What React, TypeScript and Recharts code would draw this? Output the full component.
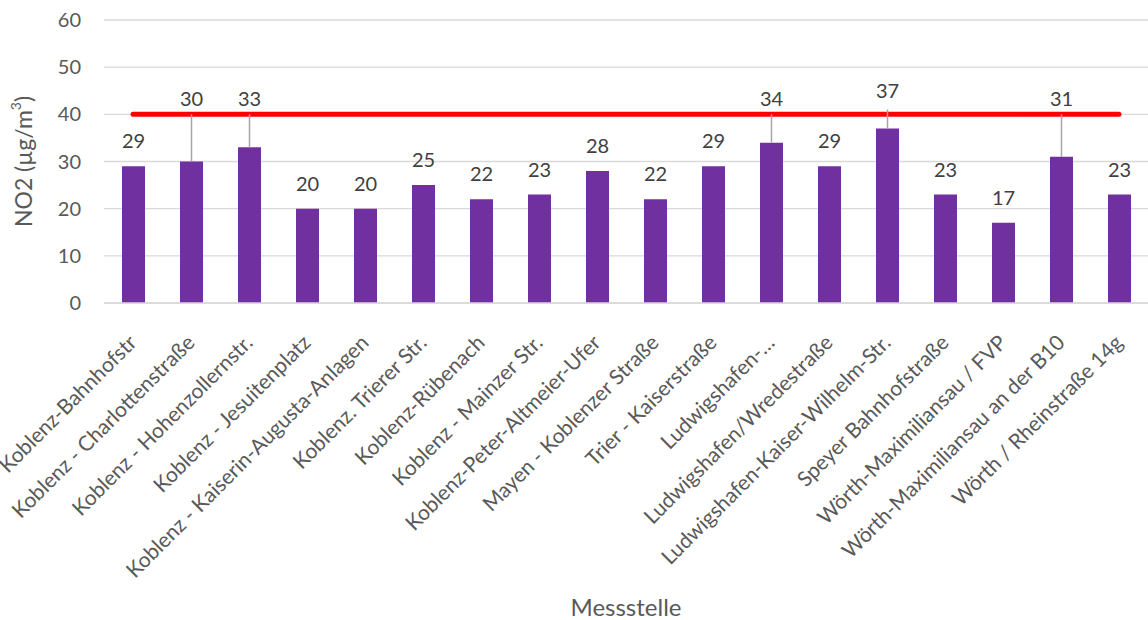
import React from 'react';
import { ComposedChart, Bar, Line, XAxis, YAxis, CartesianGrid, LabelList, Label } from 'recharts';

const categories = [
  'Koblenz-Bahnhofstr',
  'Koblenz - Charlottenstraße',
  'Koblenz - Hohenzollernstr.',
  'Koblenz - Jesuitenplatz',
  'Koblenz - Kaiserin-Augusta-Anlagen',
  'Koblenz. Trierer Str.',
  'Koblenz-Rübenach',
  'Koblenz - Mainzer Str.',
  'Koblenz-Peter-Altmeier-Ufer',
  'Mayen - Koblenzer Straße',
  'Trier - Kaiserstraße',
  'Ludwigshafen-…',
  'Ludwigshafen/Wredestraße',
  'Ludwigshafen-Kaiser-Wilhelm-Str.',
  'Speyer Bahnhofstraße',
  'Wörth-Maximiliansau / FVP',
  'Wörth-Maximiliansau an der B10',
  'Wörth / Rheinstraße 14g',
];

const no2Values = [29, 30, 33, 20, 20, 25, 22, 23, 28, 22, 29, 34, 29, 37, 23, 17, 31, 23];

const limitValues = [40, 40, 40, 40, 40, 40, 40, 40, 40, 40, 40, 40, 40, 40, 40, 40, 40, 40];

const yTicks = [0, 10, 20, 30, 40, 50, 60];

const data = categories.map((name, i) => ({ name, no2: no2Values[i], limit: limitValues[i] }));

const FONT = 'Lato, "Open Sans", sans-serif';
const TEXT = '#595959';

const XTick = (props: any) => {
  const { x, y, payload } = props;
  const ax = x + 5;
  const ay = y + 41;
  return (
    <text
      x={ax}
      y={ay}
      transform={`rotate(-45, ${ax}, ${ay})`}
      textAnchor="end"
      fill={TEXT}
      fontSize={21}
      fontFamily={FONT}
    >
      {payload.value}
    </text>
  );
};

const BarLabel = (props: any) => {
  const { x, y, width, height, value } = props;
  const cx = x + width / 2;
  const k = height / value;
  const y0 = y + height;
  const y40 = y0 - 40 * k;
  if (value >= 30) {
    const ly = Math.min(y40 - 16, y - 38);
    const top = Math.min(y40, ly + 19);
    return (
      <g>
        <line x1={cx} x2={cx} y1={top} y2={y} stroke="#A6A6A6" strokeWidth={1.5} />
        <text x={cx} y={ly} dy="0.36em" textAnchor="middle" fill="#404040" fontSize={20} fontFamily={FONT}>
          {value}
        </text>
      </g>
    );
  }
  return (
    <text x={cx} y={y - 25} dy="0.36em" textAnchor="middle" fill="#404040" fontSize={20} fontFamily={FONT}>
      {value}
    </text>
  );
};

const YTitle = (props: any) => {
  const { viewBox } = props;
  const cx = 23;
  const cy = viewBox.y + viewBox.height / 2;
  return (
    <text
      x={cx}
      y={cy}
      transform={`rotate(-90, ${cx}, ${cy})`}
      textAnchor="middle"
      dominantBaseline="central"
      fill={TEXT}
      fontSize={23}
      fontFamily={FONT}
    >
      NO2 (µg/m<tspan dy="-8" fontSize={14}>3</tspan><tspan dy="8">)</tspan>
    </text>
  );
};

const XTitle = (props: any) => {
  const { viewBox } = props;
  const cx = viewBox.x + viewBox.width / 2;
  return (
    <text x={cx} y={616} textAnchor="middle" fill={TEXT} fontSize={24} fontFamily={FONT}>
      Messstelle
    </text>
  );
};

export default function App() {
  return (
    <div style={{ position: 'absolute', left: 0, top: 0, width: 1148, height: 620, background: '#fff' }}>
      <ComposedChart
        width={1148}
        height={620}
        data={data}
        margin={{ top: 20, right: 0, left: 0, bottom: 0 }}
      >
        <CartesianGrid vertical={false} stroke="#D9D9D9" strokeWidth={1.3} />
        <XAxis
          dataKey="name"
          interval={0}
          height={317}
          tick={<XTick />}
          tickLine={false}
          tickSize={0}
          tickMargin={0}
          axisLine={{ stroke: '#D9D9D9', strokeWidth: 1.3 }}
        >
          <Label content={<XTitle />} />
        </XAxis>
        <YAxis
          width={104}
          domain={[0, 60]}
          ticks={yTicks}
          interval={0}
          axisLine={false}
          tickLine={false}
          tickSize={0}
          tickMargin={23}
          tick={{ fill: TEXT, fontSize: 20, fontFamily: FONT }}
        >
          <Label content={<YTitle />} />
        </YAxis>
        <Bar dataKey="no2" fill="#7030A0" barSize={23} isAnimationActive={false}>
          <LabelList dataKey="no2" content={<BarLabel />} />
        </Bar>
        <Line
          dataKey="limit"
          stroke="#FF0000"
          strokeWidth={5}
          strokeLinecap="round"
          dot={false}
          activeDot={false}
          isAnimationActive={false}
        />
      </ComposedChart>
    </div>
  );
}
